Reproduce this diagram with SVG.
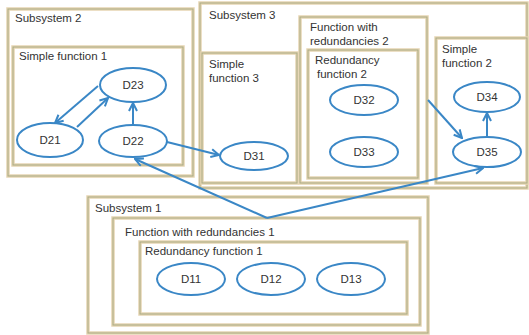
<svg xmlns="http://www.w3.org/2000/svg" width="529" height="335" viewBox="0 0 529 335">
<defs>
<style>
.box{fill:#fff;stroke:#e6d5b3;stroke-width:3.5}
.inner{fill:none;stroke:#a9ab84;stroke-width:1}
.node{fill:#fff;stroke:#3a87c6;stroke-width:2}
.lbl{font-family:"Liberation Sans",Arial,sans-serif;font-size:11.5px;fill:#333}
.nl{font-family:"Liberation Sans",Arial,sans-serif;font-size:11.5px;fill:#333;text-anchor:middle}
.edge{fill:none;stroke:#3a87c6;stroke-width:2}
</style>
<marker id="arr" viewBox="0 0 10 10" refX="9" refY="5" markerWidth="5" markerHeight="5" orient="auto" markerUnits="strokeWidth">
<path d="M1,1 L9,5 L1,9" fill="none" stroke="#3a87c6" stroke-width="2"/>
</marker>
</defs>
<rect width="529" height="335" fill="#fff"/>

<g id="subsystem2">
<rect class="box" x="8" y="9" width="185" height="167"/><rect class="inner" x="8" y="9" width="185" height="167"/>
<text class="lbl" x="15" y="22">Subsystem 2</text>
</g>
<g id="simple-function-1">
<rect class="box" x="13" y="47" width="170" height="118"/><rect class="inner" x="13" y="47" width="170" height="118"/>
<text class="lbl" x="19" y="60">Simple function 1</text>
</g>

<g id="subsystem3">
<rect class="box" x="200" y="3" width="327" height="185"/><rect class="inner" x="200" y="3" width="327" height="185"/>
<text class="lbl" x="209" y="19">Subsystem 3</text>
</g>
<g id="simple-function-3">
<rect class="box" x="202" y="53" width="95" height="130"/><rect class="inner" x="202" y="53" width="95" height="130"/>
<text class="lbl" x="209" y="68">Simple</text>
<text class="lbl" x="209" y="82">function 3</text>
</g>
<g id="function-with-redundancies-2">
<rect class="box" x="300" y="17" width="127" height="166"/><rect class="inner" x="300" y="17" width="127" height="166"/>
<text class="lbl" x="310" y="31">Function with</text>
<text class="lbl" x="310" y="45">redundancies 2</text>
</g>
<g id="redundancy-function-2">
<rect class="box" x="308" y="50" width="110" height="128"/><rect class="inner" x="308" y="50" width="110" height="128"/>
<text class="lbl" x="315" y="64">Redundancy</text>
<text class="lbl" x="317" y="78">function 2</text>
</g>
<g id="simple-function-2">
<rect class="box" x="436" y="38" width="91" height="145"/><rect class="inner" x="436" y="38" width="91" height="145"/>
<text class="lbl" x="442" y="53">Simple</text>
<text class="lbl" x="442" y="67">function 2</text>
</g>

<g id="subsystem1">
<rect class="box" x="88" y="197" width="340" height="136"/><rect class="inner" x="88" y="197" width="340" height="136"/>
<text class="lbl" x="95" y="212">Subsystem 1</text>
</g>
<g id="function-with-redundancies-1">
<rect class="box" x="113" y="218" width="307" height="107"/><rect class="inner" x="113" y="218" width="307" height="107"/>
<text class="lbl" x="125" y="236">Function with redundancies 1</text>
</g>
<g id="redundancy-function-1">
<rect class="box" x="140" y="242" width="267" height="72"/><rect class="inner" x="140" y="242" width="267" height="72"/>
<text class="lbl" x="145" y="255">Redundancy function 1</text>
</g>

<g id="D23"><ellipse class="node" cx="133" cy="85" rx="33" ry="17"/><text class="nl" x="133" y="89">D23</text></g>
<g id="D21"><ellipse class="node" cx="50" cy="140" rx="33" ry="17"/><text class="nl" x="50" y="144">D21</text></g>
<g id="D22"><ellipse class="node" cx="133" cy="141" rx="34" ry="16"/><text class="nl" x="133" y="145">D22</text></g>
<g id="D31"><ellipse class="node" cx="254" cy="156" rx="34" ry="14"/><text class="nl" x="254" y="160">D31</text></g>
<g id="D32"><ellipse class="node" cx="364" cy="100" rx="34" ry="15"/><text class="nl" x="364" y="104">D32</text></g>
<g id="D33"><ellipse class="node" cx="364" cy="152" rx="34" ry="15"/><text class="nl" x="364" y="156">D33</text></g>
<g id="D34"><ellipse class="node" cx="487" cy="97" rx="33" ry="15"/><text class="nl" x="487" y="101">D34</text></g>
<g id="D35"><ellipse class="node" cx="487" cy="152" rx="34" ry="15"/><text class="nl" x="487" y="156">D35</text></g>
<g id="D11"><ellipse class="node" cx="191" cy="279" rx="34" ry="16"/><text class="nl" x="191" y="283">D11</text></g>
<g id="D12"><ellipse class="node" cx="271" cy="279" rx="34" ry="16"/><text class="nl" x="271" y="283">D12</text></g>
<g id="D13"><ellipse class="node" cx="351" cy="279" rx="34" ry="16"/><text class="nl" x="351" y="283">D13</text></g>

<g id="connectors">
<line class="edge" x1="98" y1="86" x2="55" y2="123" marker-end="url(#arr)"/>
<line class="edge" x1="77" y1="127" x2="108" y2="98" marker-end="url(#arr)"/>
<line class="edge" x1="133" y1="125" x2="133" y2="103" marker-end="url(#arr)"/>
<line class="edge" x1="167" y1="142" x2="219" y2="155" marker-end="url(#arr)"/>
<line class="edge" x1="428" y1="100" x2="462" y2="138" marker-end="url(#arr)"/>
<line class="edge" x1="487" y1="137" x2="487" y2="113" marker-end="url(#arr)"/>
<line class="edge" x1="267" y1="218" x2="135" y2="159" marker-end="url(#arr)"/>
<line class="edge" x1="267" y1="218" x2="483" y2="168" marker-end="url(#arr)"/>
</g>
</svg>
